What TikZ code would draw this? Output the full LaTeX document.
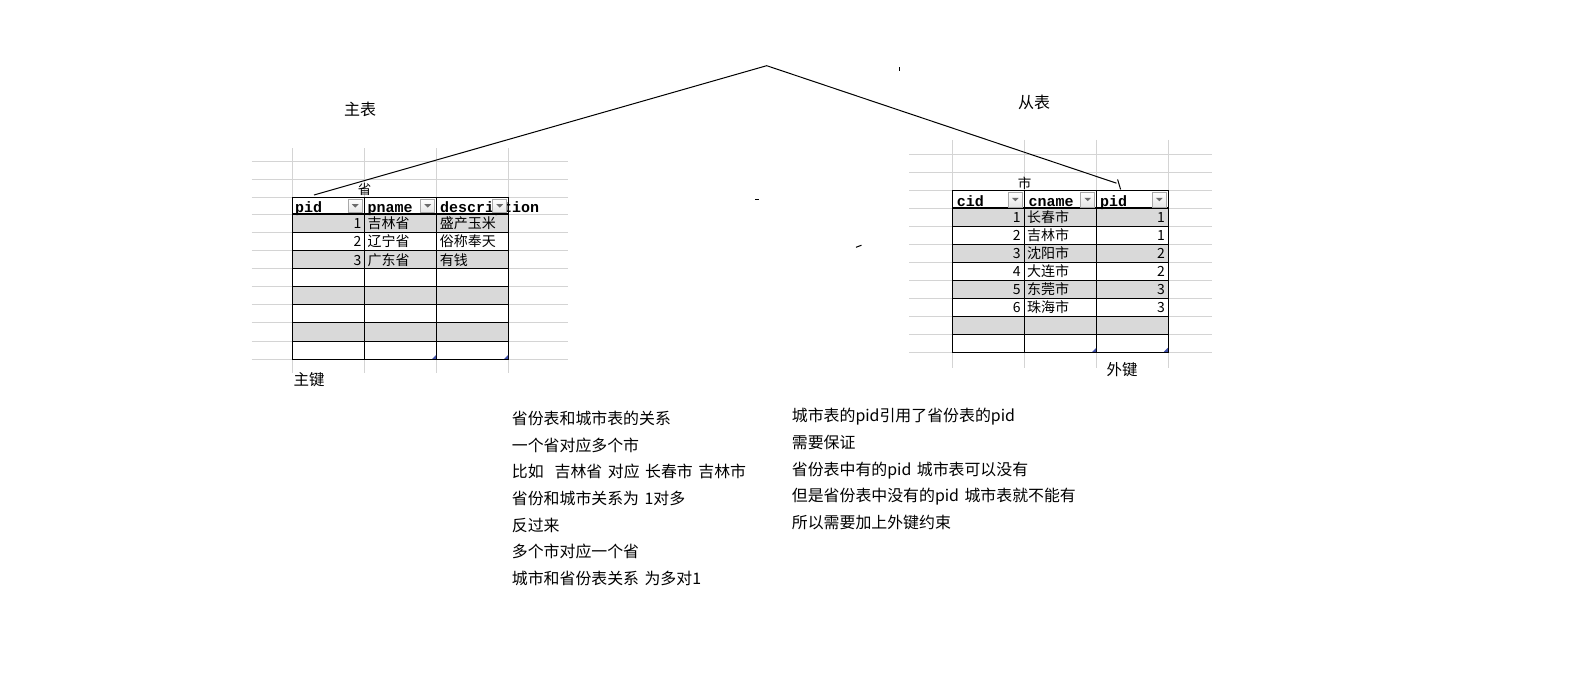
\documentclass[tikz,border=0pt]{standalone}
\usepackage{fontspec}
\newfontfamily\cjk{Noto Sans CJK SC}
\newfontfamily\mono{Liberation Mono}
\definecolor{gridgray}{HTML}{D4D4D4}
\definecolor{rowgray}{HTML}{D9D9D9}
\definecolor{btnborder}{HTML}{A8A8A8}
\definecolor{btnarrow}{HTML}{6B6B6B}
\definecolor{rszblue}{HTML}{3F4FA8}
\begin{document}
\begin{tikzpicture}[x=1bp,y=-1bp,
  gridline/.style={draw=gridgray,line width=1bp},
  border/.style={draw=black,line width=1bp},
  hdrline/.style={draw=black,line width=2bp},
  hdr/.style={font=\mono\bfseries\fontsize{15bp}{15bp}\selectfont,inner sep=0,anchor=base west},
  cell/.style={font=\cjk\fontsize{14bp}{14bp}\selectfont,inner sep=0},
  note/.style={font=\cjk\fontsize{15.9bp}{16bp}\selectfont,inner sep=0,anchor=base west},
  label/.style={font=\cjk\fontsize{15.5bp}{16bp}\selectfont,inner sep=0,anchor=base},
  btn/.style={draw=btnborder,line width=0.6bp,top color=white,bottom color=black!10},
  arrowtri/.style={fill=btnarrow},
  rsz/.style={fill=rszblue},
  stroke/.style={draw=black,line width=1bp}
]
\useasboundingbox (0,0) rectangle (1594,680);
\fill[white] (0,0) rectangle (1594,680);

% ================= left table (主表) =================
% grid
\foreach \y in {161,179,197.3} \draw[gridline] (251.7,\y) -- (568,\y);
\foreach \k in {0,...,8} \draw[gridline] (251.7,{214+18.16*\k}) -- (568,{214+18.16*\k});
\foreach \x in {292.3,364.3,436.7,508.7} \draw[gridline] (\x,148.3) -- (\x,373.3);
% row fills
\foreach \k in {0,2,4,6} \fill[rowgray] (292.3,{214+18.16*\k}) rectangle (508.7,{214+18.16*(\k+1)});
% borders
\draw[border] (292.3,197.3) rectangle (508.7,359.3);
\foreach \x in {364.3,436.7} \draw[border] (\x,197.3) -- (\x,359.3);
\foreach \k in {1,...,7} \draw[border] (292.3,{214+18.16*\k}) -- (508.7,{214+18.16*\k});
\draw[hdrline] (292.3,214) -- (508.7,214);
% header text
\node[hdr] (lh1) at (295,212.3) {pid};
\node[hdr] (lh2) at (367.5,212.3) {pname};
\node[hdr] (lh3) at (440,212.3) {description};
% filter buttons
\foreach \r/\nm in {364.3/lb1,436.7/lb2,508.7/lb3} {
  \draw[btn] ({\r-16},199) rectangle ({\r-2},212.6);
  \fill[btnarrow] ({\r-12.4},204.2) -- ({\r-5.6},204.2) -- ({\r-9},207.6) -- cycle;
}
% data
\foreach \i/\n/\p/\d in {1/1/吉林省/盛产玉米,2/2/辽宁省/俗称奉天,3/3/广东省/有钱} {
  \pgfmathsetmacro\yb{214+18.16*(\i-0.5)+5.6}
  \node[cell,anchor=base east] (lpid\i) at (361.7,\yb) {\n};
  \node[cell,anchor=base west] (lpn\i) at (367.3,\yb) {\p};
  \node[cell,anchor=base west] (lds\i) at (439.7,\yb) {\d};
}
% resize markers
\foreach \x in {436.7,508.7} \fill[rsz] ({\x-4.5},358.8) -- ({\x-0.5},358.8) -- ({\x-0.5},354.8) -- cycle;
\node[cell,anchor=base,font=\cjk\fontsize{13.5bp}{14bp}\selectfont] (ltitle) at (364.5,194.5) {省};
\node[label] (lkey) at (309,385.8) {主键};
\node[label,font=\cjk\fontsize{16bp}{16bp}\selectfont] (lname) at (360.2,115.8) {主表};

% ================= right table (从表) =================
\foreach \y in {154.3,172.3,190.7} \draw[gridline] (909,\y) -- (1211.7,\y);
\foreach \k in {0,...,8} \draw[gridline] (909,{208.3+18*\k}) -- (1211.7,{208.3+18*\k});
\foreach \x in {952.3,1024.3,1096.7,1168.3} \draw[gridline] (\x,140) -- (\x,368.3);
\foreach \k in {0,2,4,6} \fill[rowgray] (952.3,{208.3+18*\k}) rectangle (1168.3,{208.3+18*(\k+1)});
\draw[border] (952.3,190.7) rectangle (1168.3,352.3);
\foreach \x in {1024.3,1096.7} \draw[border] (\x,190.7) -- (\x,352.3);
\foreach \k in {1,...,7} \draw[border] (952.3,{208.3+18*\k}) -- (1168.3,{208.3+18*\k});
\draw[hdrline] (952.3,208.3) -- (1168.3,208.3);
\node[hdr] (rh1) at (956.7,206.3) {cid};
\node[hdr] (rh2) at (1028.3,206.3) {cname};
\node[hdr] (rh3) at (1100,206.3) {pid};
\foreach \r in {1024.3,1096.7,1168.3} {
  \draw[btn] ({\r-16},192.4) rectangle ({\r-2},206.8);
  \fill[btnarrow] ({\r-12.4},197.8) -- ({\r-5.6},197.8) -- ({\r-9},201.2) -- cycle;
}
\foreach \i/\c/\n/\p in {1/1/长春市/1,2/2/吉林市/1,3/3/沈阳市/2,4/4/大连市/2,5/5/东莞市/3,6/6/珠海市/3} {
  \pgfmathsetmacro\yb{208.3+18*(\i-0.5)+5.6}
  \node[cell,anchor=base east] (rcid\i) at (1020.9,\yb) {\c};
  \node[cell,anchor=base west] (rcn\i) at (1026.8,\yb) {\n};
  \node[cell,anchor=base east] (rpid\i) at (1165,\yb) {\p};
}
\foreach \x in {1096.7,1168.3} \fill[rsz] ({\x-4.5},351.8) -- ({\x-0.5},351.8) -- ({\x-0.5},347.8) -- cycle;
\node[cell,anchor=base,font=\cjk\fontsize{13.5bp}{14bp}\selectfont] (rtitle) at (1024.5,188) {市};
\node[label] (rkey) at (1122,375.8) {外键};
\node[label,font=\cjk\fontsize{16bp}{16bp}\selectfont] (rname) at (1034,108.6) {从表};

% ================= connector =================
\coordinate (lstart) at (314,195);
\coordinate (apex) at (766.7,65.7);
\coordinate (rend) at (1116.5,183.2);
\coordinate (hook1) at (1117.6,179.4);
\coordinate (hook2) at (1120.6,189.4);
\draw[stroke] (lstart) -- (apex) -- (rend);
\draw[stroke] (hook1) -- (hook2);
% stray marks
\coordinate (m1a) at (899.3,67.3); \coordinate (m1b) at (899.3,70.7);
\coordinate (m2a) at (755.2,199.3); \coordinate (m2b) at (758.6,199.3);
\coordinate (m3a) at (856,247.3); \coordinate (m3b) at (861.5,245.2);
\draw[stroke] (m1a) -- (m1b);
\draw[stroke] (m2a) -- (m2b);
\draw[stroke] (m3a) -- (m3b);

% ================= notes =================
\def\sp{\hspace{5.5bp}}
\node[note] (n1) at (511.7,424.3) {省份表和城市表的关系};
\node[note] (n2) at (511.7,451.0) {一个省对应多个市};
\node[note] (n3) at (511.7,477.7) {比如\hspace{11bp}吉林省\sp 对应\sp 长春市\sp 吉林市};
\node[note] (n4) at (511.7,504.3) {省份和城市关系为\sp 1对多};
\node[note] (n5) at (511.7,531.0) {反过来};
\node[note] (n6) at (511.7,557.7) {多个市对应一个省};
\node[note] (n7) at (511.7,584.3) {城市和省份表关系\sp 为多对1};

\node[note] (m1) at (791.7,421.7) {城市表的pid引用了省份表的pid};
\node[note] (m2) at (791.7,448.4) {需要保证};
\node[note] (m3) at (791.7,475.1) {省份表中有的pid\sp 城市表可以没有};
\node[note] (m4) at (791.7,501.8) {但是省份表中没有的pid\sp 城市表就不能有};
\node[note] (m5) at (791.7,528.5) {所以需要加上外键约束};
\end{tikzpicture}
\end{document}
